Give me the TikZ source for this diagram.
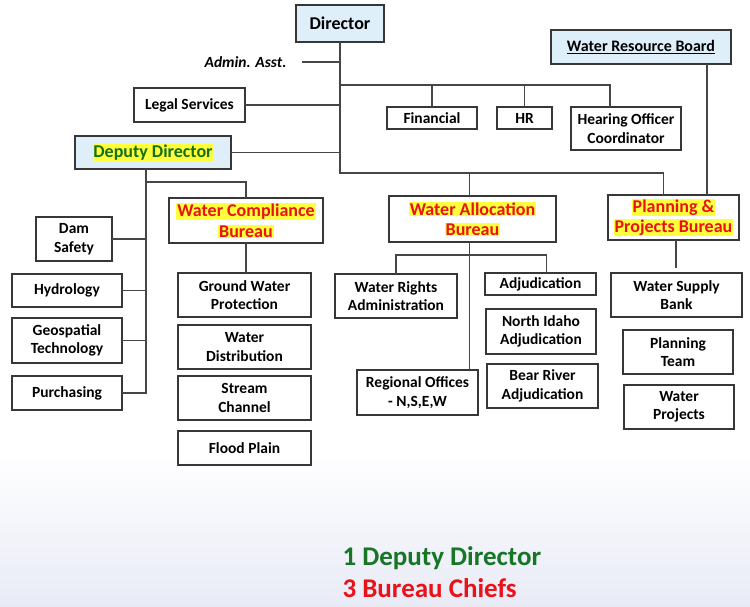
\documentclass[tikz,border=0pt]{standalone}
\usepackage{fontspec}
\setmainfont{Carlito}
\definecolor{boxgray}{RGB}{55,55,55}
\definecolor{linegray}{RGB}{70,70,70}
\definecolor{boxblue}{RGB}{222,239,250}
\definecolor{hlyellow}{RGB}{255,255,60}
\definecolor{chiefred}{RGB}{232,18,24}
\definecolor{deputygreen}{RGB}{20,112,24}
\definecolor{countgreen}{RGB}{22,118,38}
\definecolor{bgfade}{RGB}{232,234,246}
\newcommand{\hilite}[1]{\colorbox{hlyellow}{#1}}
\setlength{\fboxsep}{0.8pt}

\begin{document}
\begin{tikzpicture}[x=1pt,y=-1pt,
    unit/.style={draw=boxgray, line width=1.6pt, inner sep=0pt, outer sep=0pt, align=center, font=\bfseries\fontsize{15.5}{18.5}\selectfont},
    head/.style={unit, fill=boxblue, font=\bfseries\fontsize{18}{21}\selectfont},
    bureau/.style={unit, text=chiefred, font=\bfseries\fontsize{18}{20.5}\selectfont},
    box/.style 2 args={minimum width=#1pt, minimum height=#2pt},
    link/.style={draw=linegray, line width=1.3pt}]
    \useasboundingbox (0,0) rectangle (750,606);
    \shade[top color=white, bottom color=bgfade] (0,455) rectangle (750,606);

    % top level
    \node[head, box={88}{37}] (dir) at (340,23.5) {Director};
    \node[head, box={180}{34}, font=\bfseries\fontsize{16}{19}\selectfont] (wrb) at (641,47) {\underline{Water Resource Board}};
    \node[font=\bfseries\itshape\fontsize{15.5}{18}\selectfont] (admin) at (245.5,62) {Admin. Asst.};
    \node[unit, box={111}{34}] (legal) at (189.5,105) {Legal Services};
    \node[head, box={156}{33}, text=deputygreen] (dep) at (153,152.5) {\hilite{Deputy Director}};
    \node[unit, box={90}{22}] (fin) at (432,118) {Financial};
    \node[unit, box={55}{22}] (hr) at (524.5,118) {HR};
    \node[unit, box={110}{43}] (hear) at (626,128.5) {Hearing Officer\\Coordinator};

    % bureaus
    \node[bureau, box={154}{45}] (wcb) at (246,220.5) {\hilite{Water Compliance}\\\hilite{Bureau}};
    \node[bureau, box={167}{46}] (wab) at (472.5,219) {\hilite{Water Allocation}\\\hilite{Bureau}};
    \node[bureau, box={131}{45}] (ppb) at (673.5,217.5) {\hilite{Planning \&}\\\hilite{Projects Bureau}};

    % deputy director units
    \node[unit, box={76}{44}] (dam) at (74,239) {Dam\\Safety};
    \node[unit, box={110}{33}] (hydro) at (67,290.5) {Hydrology};
    \node[unit, box={110}{45}] (geo) at (67,340.5) {Geospatial\\Technology};
    \node[unit, box={110}{34}] (purch) at (67,393) {Purchasing};

    % water compliance units
    \node[unit, box={133}{44}] (gwp) at (244.5,295) {Ground Water\\Protection};
    \node[unit, box={133}{44}] (wdist) at (244.5,347) {Water\\Distribution};
    \node[unit, box={133}{44}] (stream) at (244.5,398) {Stream\\Channel};
    \node[unit, box={133}{34}] (flood) at (244.5,448) {Flood Plain};

    % water allocation units
    \node[unit, box={122}{44}] (wra) at (396,296) {Water Rights\\Administration};
    \node[unit, box={111}{22}] (adj) at (540.5,284) {Adjudication};
    \node[unit, box={110}{45}] (nia) at (541,331.5) {North Idaho\\Adjudication};
    \node[unit, box={111}{44}] (bra) at (542.5,386) {Bear River\\Adjudication};
    \node[unit, box={121}{45}] (reg) at (417.5,392.5) {Regional Offices\\- N,S,E,W};

    % planning units
    \node[unit, box={131}{44}] (wsb) at (676.5,295) {Water Supply\\Bank};
    \node[unit, box={110}{44}] (pteam) at (678,352) {Planning\\Team};
    \node[unit, box={110}{44}] (wproj) at (679,407) {Water\\Projects};

    % counts
    \node[anchor=base west, text=countgreen, font=\bfseries\fontsize{27}{30}\selectfont] (ndep) at (339,565) {1 Deputy Director};
    \node[anchor=base west, text=chiefred, font=\bfseries\fontsize{27}{30}\selectfont] (nchief) at (339,597) {3 Bureau Chiefs};

    \coordinate (staffbus) at (340,85);
    \coordinate (bus) at (340,173);
    \coordinate (dspine) at (146,169);
    \coordinate (dbus) at (146,182);
    \coordinate (abus) at (396,255);

    \draw[link] (dir.south) -- (bus) -| ([xshift=-10pt]ppb.north);
    \draw[link] ([xshift=12pt]admin.east) -- (admin.east -| dir.south);
    \draw[link] (legal.east) -- (legal.east -| dir.south);
    \draw[link] (dep.east) -- (dep.east -| dir.south);
    \draw[link] (staffbus) -| ([xshift=-16pt]hear.north);
    \draw[link] (fin.north) -- (fin.north |- staffbus);
    \draw[link] (hr.north) -- (hr.north |- staffbus);
    \draw[link] ([xshift=-3pt]wab.north) -- ([xshift=-3pt]wab.north |- bus);
    \draw[link] ([xshift=66pt]wrb.south) -- ([xshift=66pt]wrb.south |- ppb.north);
    \draw[link] (dspine) |- (purch.east);
    \draw[link] (dam.east) -- (dam.east -| dspine);
    \draw[link] (hydro.east) -- (hydro.east -| dspine);
    \draw[link] (geo.east) -- (geo.east -| dspine);
    \draw[link] (dbus) -| (wcb.north);
    \draw[link] (wcb.south) -- (wcb.south |- gwp.north);
    \draw[link] ([xshift=-3pt]wab.south) -- ([xshift=-3pt]wab.south |- reg.north);
    \draw[link] (wra.north) -- (wra.north |- abus) -| ([xshift=6pt]adj.north);
    \draw[link, shorten >=5pt] ([xshift=2.5pt]ppb.south) -- ([xshift=2.5pt]ppb.south |- wsb.north);
\end{tikzpicture}
\end{document}
